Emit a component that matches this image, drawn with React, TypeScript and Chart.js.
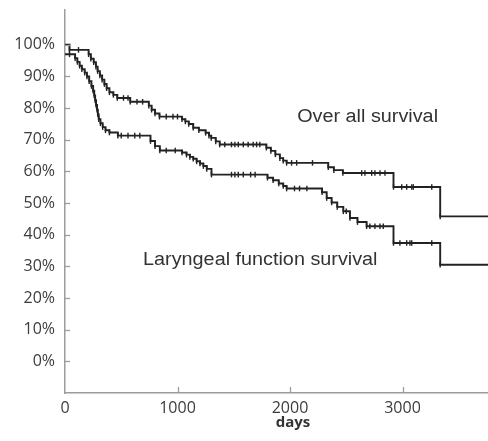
import React, { useEffect, useRef } from "react";
import { Chart, registerables } from "chart.js";

Chart.register(...registerables);

// ---- data ----
const xTickValues = [0, 1000, 2000, 3000];
const yTickValues = [0, 10, 20, 30, 40, 50, 60, 70, 80, 90, 100];
const xMin = 0;
const xMax = 3760;
const yMin = -10;
const yMax = 111;

const seriesLabels = ["Over all survival", "Laryngeal function survival"];
const xTitle = "days";

const overallDays = [0, 40, 210, 230, 255, 275, 290, 310, 330, 350, 370, 395, 430, 465, 580, 745, 770, 800, 840, 1040, 1070, 1100, 1140, 1190, 1250, 1280, 1300, 1340, 1375, 1790, 1830, 1870, 1910, 1940, 1970, 2340, 2390, 2470, 2920, 3335];
const overallSurvival = [100, 98.4, 97.0, 95.6, 94.5, 93.1, 91.7, 90.3, 89.0, 87.6, 86.3, 85.0, 84.2, 83.2, 82.0, 80.8, 79.5, 78.3, 77.3, 76.5, 75.8, 75.0, 73.8, 73.0, 72.2, 71.3, 70.6, 69.5, 68.5, 67.5, 66.5, 65.4, 64.2, 63.4, 62.7, 61.3, 60.4, 59.5, 55.1, 45.8];
const overallCensorDays = [120, 520, 560, 640, 690, 900, 960, 1000, 1420, 1480, 1510, 1540, 1585, 1628, 1673, 1703, 1732, 2014, 2059, 2200, 2637, 2666, 2726, 2755, 2800, 2844, 2993, 3037, 3082, 3096, 3260];

const laryngealDays = [0, 90, 110, 130, 150, 175, 195, 215, 235, 250, 260, 268, 276, 285, 292, 300, 315, 335, 360, 395, 470, 760, 800, 843, 1040, 1080, 1110, 1140, 1170, 1200, 1230, 1260, 1302, 1800, 1850, 1900, 1940, 1970, 2285, 2326, 2370, 2420, 2474, 2533, 2600, 2681, 2920, 3335];
const laryngealSurvival = [97, 95.8, 94.6, 93.4, 92.3, 91.2, 90.0, 88.5, 87.0, 85.5, 84.0, 82.5, 81.0, 79.5, 78.0, 76.5, 75.2, 74.0, 73.0, 72.3, 71.3, 69.6, 68.0, 66.6, 66.0, 65.3, 64.6, 64.0, 63.2, 62.5, 61.7, 60.8, 59.0, 58.0, 57.2, 56.2, 55.4, 54.6, 53.4, 51.6, 50.2, 48.8, 47.4, 45.3, 44.0, 42.7, 37.4, 30.5];
const laryngealCensorDays = [40, 500, 560, 620, 665, 900, 980, 1480, 1510, 1540, 1585, 1650, 1690, 2040, 2085, 2150, 2500, 2710, 2755, 2800, 2829, 2977, 3037, 3066, 3082, 3260];

// ---- helpers ----
function survivalAt(days: number[], surv: number[], t: number) {
  let v = surv[0];
  for (let i = 0; i < days.length; i++) {
    if (days[i] <= t) v = surv[i];
  }
  return v;
}

function stepPoints(days: number[], surv: number[]) {
  const pts = days.map((d, i) => ({ x: d, y: surv[i] }));
  pts.push({ x: xMax, y: surv[surv.length - 1] });
  return pts;
}

function censorPoints(days: number[], surv: number[], censor: number[]) {
  return censor.map((t) => ({ x: t, y: survivalAt(days, surv, t) }));
}

const lineColor = "#222222";
const axisColor = "#9c9c9c";
const textColor = "#3c3c3c";

const decorations = {
  id: "decorations",
  afterDraw(chart: any) {
    const { ctx, chartArea, scales } = chart;
    const xs = scales.x;
    const ys = scales.y;
    ctx.save();
    ctx.strokeStyle = axisColor;
    ctx.lineWidth = 1.3;
    yTickValues.forEach((v) => {
      const py = Math.round(ys.getPixelForValue(v)) + 0.5;
      ctx.beginPath();
      ctx.moveTo(chartArea.left, py);
      ctx.lineTo(chartArea.left + 5, py);
      ctx.stroke();
    });
    xTickValues
      .filter((v) => v > xMin)
      .forEach((v) => {
        const px = Math.round(xs.getPixelForValue(v)) + 0.5;
        ctx.beginPath();
        ctx.moveTo(px, chartArea.bottom);
        ctx.lineTo(px, chartArea.bottom - 6);
        ctx.stroke();
      });

    // series labels
    ctx.fillStyle = "#333333";
    ctx.font = '18px "Liberation Sans", Arial, sans-serif';
    ctx.textBaseline = "alphabetic";
    ctx.textAlign = "left";
    const drawLabel = (text: string, dx: number, dy: number) => {
      const px = xs.getPixelForValue(dx);
      const py = ys.getPixelForValue(dy);
      ctx.save();
      ctx.translate(px, py);
      ctx.scale(1.1, 1);
      ctx.fillText(text, 0, 0);
      ctx.restore();
    };
    drawLabel(seriesLabels[0], 2064, 75.6);
    drawLabel(seriesLabels[1], 694, 30.3);

    // x title
    ctx.fillStyle = "#333333";
    ctx.font = 'bold 15px "Open Sans", sans-serif';
    ctx.textAlign = "center";
    ctx.fillText(xTitle, xs.getPixelForValue(2027), chartArea.bottom + 33.5);
    ctx.restore();
  },
};

export default function App() {
  const canvasRef = useRef<HTMLCanvasElement | null>(null);

  useEffect(() => {
    if (!canvasRef.current) return;
    Chart.defaults.font.family = '"Open Sans", sans-serif';
    const markerCommon = {
      pointStyle: "line" as const,
      rotation: 90,
      pointRadius: 2.8,
      pointBorderWidth: 1.4,
      pointBorderColor: lineColor,
      pointBackgroundColor: lineColor,
      pointHoverRadius: 0,
    };
    const osPts = stepPoints(overallDays, overallSurvival);
    const lfPts = stepPoints(laryngealDays, laryngealSurvival);
    const zeroPadding = (scale: any) => {
      scale.paddingTop = 0;
      scale.paddingBottom = 0;
      scale.paddingLeft = 0;
      scale.paddingRight = 0;
    };
    const chart = new Chart(canvasRef.current, {
      type: "line",
      data: {
        datasets: [
          {
            label: seriesLabels[0],
            data: osPts,
            stepped: true,
            borderColor: lineColor,
            borderWidth: 1.9,
            fill: false,
            ...markerCommon,
            pointRadius: osPts.map((_, i) => (i === 0 || i === osPts.length - 1 ? 0 : 2.8)),
          },
          {
            label: seriesLabels[1],
            data: lfPts,
            stepped: true,
            borderColor: lineColor,
            borderWidth: 1.9,
            fill: false,
            ...markerCommon,
            pointRadius: lfPts.map((_, i) => (i === 0 || i === lfPts.length - 1 ? 0 : 2.8)),
          },
          {
            label: seriesLabels[0] + " censored",
            data: censorPoints(overallDays, overallSurvival, overallCensorDays),
            showLine: false,
            ...markerCommon,
          },
          {
            label: seriesLabels[1] + " censored",
            data: censorPoints(laryngealDays, laryngealSurvival, laryngealCensorDays),
            showLine: false,
            ...markerCommon,
          },
        ],
      },
      options: {
        animation: false,
        responsive: true,
        maintainAspectRatio: false,
        layout: { autoPadding: false, padding: { top: 10, left: 0, right: 0, bottom: 0 } },
        plugins: {
          legend: { display: false },
          tooltip: { enabled: false },
        },
        scales: {
          x: {
            type: "linear",
            min: xMin,
            max: xMax,
            afterBuildTicks: (scale: any) => {
              scale.ticks = xTickValues.map((v) => ({ value: v }));
            },
            afterFit: (scale: any) => {
              scale.height = 48;
              zeroPadding(scale);
            },
            grid: { display: false, drawTicks: false },
            border: { display: true, color: axisColor, width: 1.5 },
            ticks: {
              padding: 6,
              color: textColor,
              font: { size: 16, family: '"Open Sans", sans-serif' },
              maxRotation: 0,
              callback: (v: any) => String(v),
            },
          },
          y: {
            type: "linear",
            min: yMin,
            max: yMax,
            afterBuildTicks: (scale: any) => {
              scale.ticks = yTickValues.map((v) => ({ value: v }));
            },
            afterFit: (scale: any) => {
              scale.width = 65;
              zeroPadding(scale);
            },
            grid: { display: false, drawTicks: false },
            border: { display: true, color: axisColor, width: 1.5 },
            ticks: {
              padding: 10,
              color: textColor,
              font: { size: 16, family: '"Open Sans", sans-serif' },
              callback: (v: any) => v + "%",
            },
          },
        },
      },
      plugins: [decorations],
    });
    return () => chart.destroy();
  }, []);

  return (
    <div style={{ position: "fixed", left: 0, top: 0, width: 488, height: 441, background: "#fff" }}>
      <canvas ref={canvasRef} />
    </div>
  );
}
